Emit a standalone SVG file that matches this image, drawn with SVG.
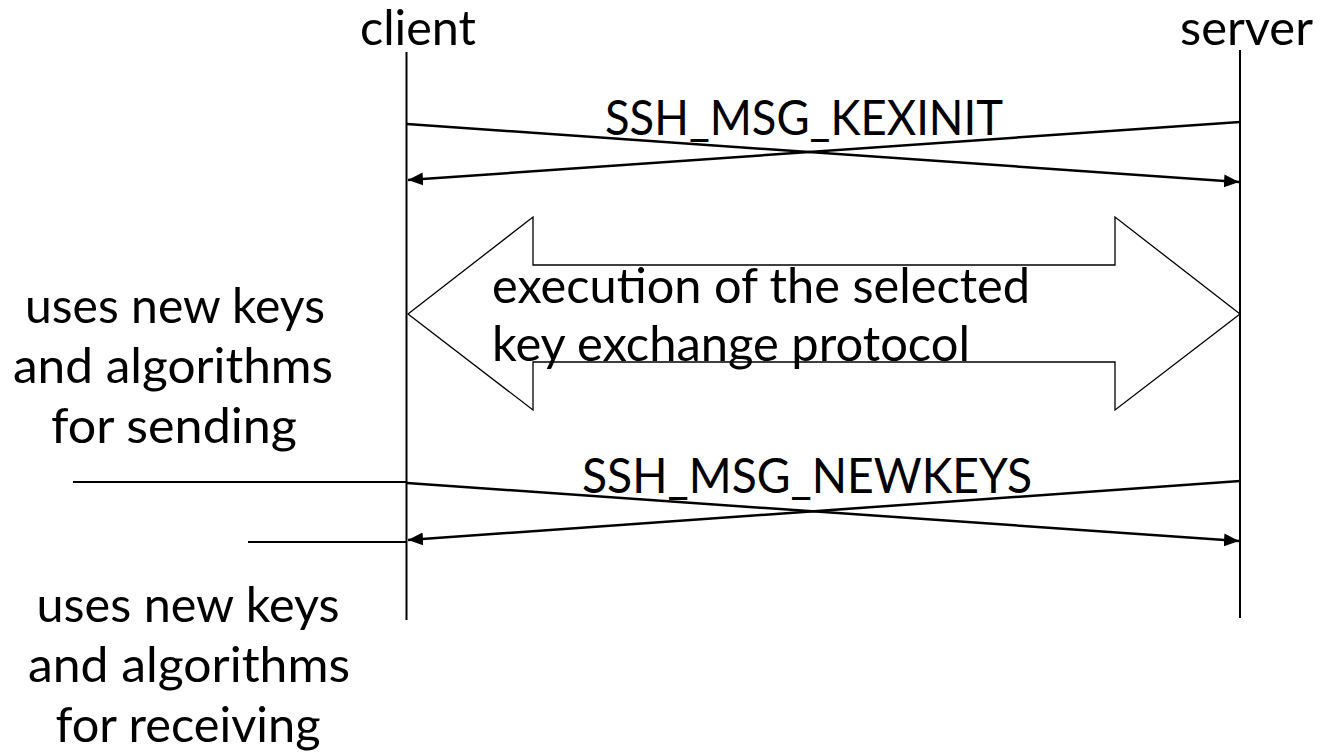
<svg xmlns="http://www.w3.org/2000/svg" width="1320" height="756" viewBox="0 0 1320 756">
<style>
text{font-family:Lato,"Open Sans","Liberation Sans",sans-serif;font-size:48px;fill:#000}
.life{stroke:#000;stroke-width:2;fill:none}
.msg{stroke:#000;stroke-width:2.5;fill:none}
.tick{stroke:#000;stroke-width:2;fill:none}
.big{stroke:#000;stroke-width:1.3;fill:#fff}
</style>
<defs>
<marker id="ah" markerUnits="userSpaceOnUse" markerWidth="16" markerHeight="14" refX="15" refY="6.5" orient="auto" viewBox="0 0 16 14">
<path d="M0,0 L15,6.5 L0,13 z" fill="#000"/>
</marker>
</defs>
<rect width="1320" height="756" fill="#fff"/>
<g id="client">
<text x="360" y="45" textLength="116" lengthAdjust="spacingAndGlyphs">client</text>
<line class="life" x1="406.5" y1="52" x2="406.5" y2="620"/>
</g>
<g id="server">
<text x="1180" y="45" textLength="133" lengthAdjust="spacingAndGlyphs">server</text>
<line class="life" x1="1240" y1="50" x2="1240" y2="618"/>
</g>
<g id="kex-exec">
<polygon class="big" points="408,314 533,217 533,265 1115,265 1115,217 1240,314 1115,410 1115,362 533,362 533,410"/>
<text x="492" y="303" textLength="538" lengthAdjust="spacingAndGlyphs">execution of the selected</text>
<text x="492" y="361" textLength="478" lengthAdjust="spacingAndGlyphs">key exchange protocol</text>
</g>
<g id="connectors">
<line class="msg" x1="407" y1="124" x2="1239" y2="182" marker-end="url(#ah)"/>
<line class="msg" x1="1240" y1="122" x2="408" y2="180" marker-end="url(#ah)"/>
<line class="msg" x1="407" y1="483" x2="1239" y2="541" marker-end="url(#ah)"/>
<line class="msg" x1="1240" y1="481" x2="408" y2="540" marker-end="url(#ah)"/>
<line class="tick" x1="73" y1="482" x2="406" y2="482"/>
<line class="tick" x1="248" y1="542" x2="406" y2="542"/>
</g>
<g id="kexinit-label">
<text x="605" y="135" textLength="398" lengthAdjust="spacingAndGlyphs">SSH_MSG_KEXINIT</text>
</g>
<g id="newkeys-label">
<text x="582" y="493" textLength="450" lengthAdjust="spacingAndGlyphs">SSH_MSG_NEWKEYS</text>
</g>
<g id="note-sending" text-anchor="middle">
<text x="175" y="323" textLength="300" lengthAdjust="spacingAndGlyphs">uses new keys</text>
<text x="173" y="383" textLength="320" lengthAdjust="spacingAndGlyphs">and algorithms</text>
<text x="174" y="443" textLength="246" lengthAdjust="spacingAndGlyphs">for sending</text>
</g>
<g id="note-receiving" text-anchor="middle">
<text x="188" y="622" textLength="303" lengthAdjust="spacingAndGlyphs">uses new keys</text>
<text x="189" y="682" textLength="322" lengthAdjust="spacingAndGlyphs">and algorithms</text>
<text x="188" y="742" textLength="265" lengthAdjust="spacingAndGlyphs">for receiving</text>
</g>
</svg>
